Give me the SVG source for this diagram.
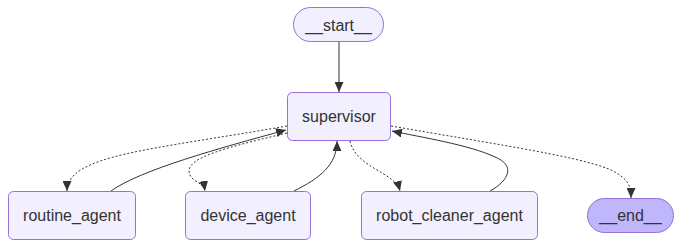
<svg xmlns="http://www.w3.org/2000/svg" width="682" height="249" viewBox="0 0 682 249">
  <style>
    .node { fill: #f2f0ff; stroke: #9370DB; stroke-width: 1; }
    .terminal { fill: #bfb6fc; stroke: #9370DB; stroke-width: 1; }
    .label { font-family: "Liberation Sans", Arial, sans-serif; font-size: 16px; fill: #333333; text-anchor: middle; dominant-baseline: central; }
    .edge { fill: none; stroke: #333333; stroke-width: 1; marker-end: url(#arrow); }
    .dotted { stroke-dasharray: 2 2; }
  </style>
  <defs>
    <marker id="arrow" viewBox="0 0 10 10" refX="10" refY="5" markerUnits="userSpaceOnUse" markerWidth="10" markerHeight="9" orient="auto" preserveAspectRatio="none">
      <path d="M0,0 L10,5 L0,10 z" fill="#333333"/>
    </marker>
  </defs>
  <rect width="682" height="249" fill="#ffffff"/>

  <g id="connectors">
    <path class="edge" d="M339,42 L339,92"/>
    <path class="edge dotted" d="M287,126 C150,150 67,155 67,191"/>
    <path class="edge" d="M111,191 C140,170 220,148 286,130"/>
    <path class="edge dotted" d="M287,133 C215,150 180,160 191,177 C195,182 204,184 205,191"/>
    <path class="edge" d="M294,191 C320,178 337,165 337,141"/>
    <path class="edge dotted" d="M350,141 C356,168 395,172 400,191"/>
    <path class="edge" d="M490,191 C510,180 515,165 495,157 C470,145 420,137 392,131"/>
    <path class="edge dotted" d="M391,126 C500,145 590,158 615,172 C628,180 631,185 631,198"/>
  </g>

  <g id="start">
    <rect class="node" x="293.5" y="7.5" width="90" height="34" rx="17" ry="17"/>
    <text class="label" x="338.5" y="25">__start__</text>
  </g>
  <g id="supervisor">
    <rect class="node" x="287.5" y="92.5" width="103" height="48" rx="5" ry="5"/>
    <text class="label" x="339" y="116.5">supervisor</text>
  </g>
  <g id="routine_agent">
    <rect class="node" x="8.5" y="191.5" width="127" height="48" rx="5" ry="5"/>
    <text class="label" x="72" y="215.5">routine_agent</text>
  </g>
  <g id="device_agent">
    <rect class="node" x="185.5" y="191.5" width="125" height="48" rx="5" ry="5"/>
    <text class="label" x="248" y="215.5">device_agent</text>
  </g>
  <g id="robot_cleaner_agent">
    <rect class="node" x="361.5" y="191.5" width="176" height="48" rx="5" ry="5"/>
    <text class="label" x="449.5" y="215.5">robot_cleaner_agent</text>
  </g>
  <g id="end">
    <rect class="terminal" x="587.5" y="198.5" width="86" height="34" rx="17" ry="17"/>
    <text class="label" x="630.5" y="215.5">__end__</text>
  </g>
</svg>
